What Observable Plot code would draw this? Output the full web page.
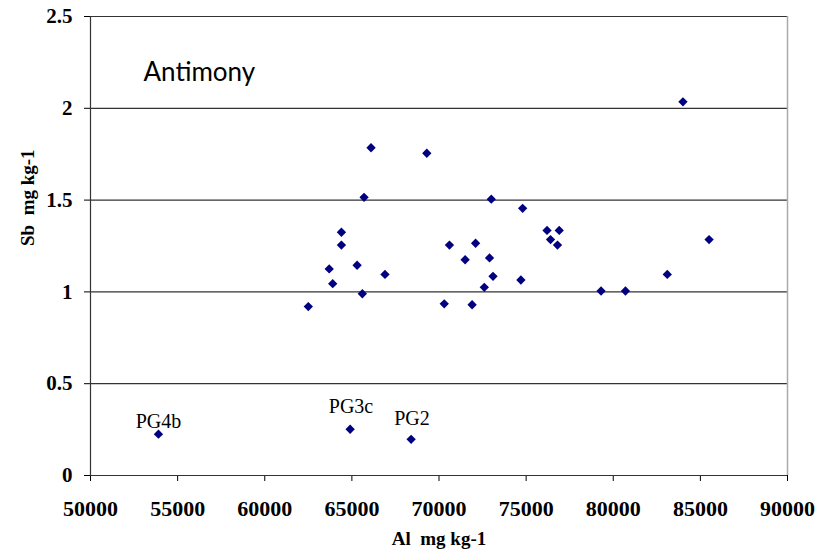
<!DOCTYPE html>
<html>
<head>
<meta charset="utf-8">
<script src="https://cdn.jsdelivr.net/npm/d3@7"></script>
<script src="https://cdn.jsdelivr.net/npm/@observablehq/plot@0.6"></script>
<style>
  html, body { margin: 0; padding: 0; background: #fff; }
  #chart { width: 831px; height: 551px; }
</style>
</head>
<body>
<div id="chart"></div>
<script>
// Main samples: Al (mg/kg) vs Sb (mg/kg)
const alValues = [66100, 69300, 65700, 73000, 74800, 64400, 64400, 63700, 63900, 65300,
                  65600, 66900, 62500, 70600, 71500, 72100, 72900, 73100, 72600, 74700,
                  70300, 71900, 76200, 76900, 76400, 76800, 84000, 85500, 83100, 79300, 80700,
                  53900, 64900, 68400];
const sbValues = [1.785, 1.755, 1.515, 1.505, 1.455, 1.325, 1.255, 1.125, 1.045, 1.145,
                  0.99, 1.095, 0.92, 1.255, 1.175, 1.265, 1.185, 1.085, 1.025, 1.065,
                  0.935, 0.93, 1.335, 1.335, 1.285, 1.255, 2.035, 1.285, 1.095, 1.005, 1.005,
                  0.225, 0.252, 0.197];
// Labelled outliers
const labelNames = ["PG4b", "PG3c", "PG2"];
const labelAl = [53900, 64950, 68450];
const labelSb = [0.293, 0.373, 0.31];

const xTicks = [50000, 55000, 60000, 65000, 70000, 75000, 80000, 85000, 90000];
const yTicks = [0, 0.5, 1, 1.5, 2, 2.5];
const titleText = "Antimony";
const xLabel = "Al  mg kg-1";
const yLabel = "Sb  mg kg-1";

const points = alValues.map((a, i) => ({al: a, sb: sbValues[i]}));
const labels = labelNames.map((n, i) => ({name: n, al: labelAl[i], sb: labelSb[i]}));

const serif = "'Liberation Serif', 'Times New Roman', serif";

const chart = Plot.plot({
  width: 831,
  height: 551,
  marginLeft: 90,
  marginRight: 44,
  marginTop: 16,
  marginBottom: 76,
  style: {fontFamily: serif, fontSize: "20px", color: "#000", background: "#fff"},
  x: {domain: [50000, 90000], ticks: xTicks, tickSize: 6, tickPadding: 19, tickFormat: d => String(d), label: null},
  y: {domain: [0, 2.5], ticks: yTicks, tickSize: 6, tickPadding: 12, tickFormat: d => String(d), label: null},
  marks: [
    Plot.ruleY(yTicks.filter(d => d > 0), {stroke: "#333", strokeWidth: 1.2}),
    Plot.ruleX([90000], {stroke: "#aaa", strokeWidth: 1.5}),
    Plot.ruleX([50000], {stroke: "#333", strokeWidth: 1.2}),
    Plot.ruleY([0], {stroke: "#333", strokeWidth: 1.2}),
    Plot.dot(points, {x: "al", y: "sb", symbol: "diamond2", r: 4.2, fill: "#000080", stroke: "none"}),
    Plot.text(labels, {x: "al", y: "sb", text: "name", fontFamily: serif, fontSize: 20, fontWeight: "normal", fill: "#000"}),
    Plot.text([titleText], {frameAnchor: "top-left", dx: 53, dy: 46, text: d => d, fontFamily: "Lato, 'Open Sans', sans-serif", fontSize: 26, fontWeight: "normal", fill: "#000", textAnchor: "start"}),
    Plot.text([xLabel], {frameAnchor: "bottom", dy: 69, text: d => d, fontFamily: serif, fontSize: 19, fontWeight: "bold", fill: "#000"}),
    Plot.text([yLabel], {frameAnchor: "left", dx: -63, rotate: -90, text: d => d, fontFamily: serif, fontSize: 19, fontWeight: "bold", fill: "#000"})
  ]
});
d3.select(chart).selectAll('g[aria-label^="x-axis"] text')
  .style("font-size", "22px").style("font-weight", "bold").style("font-family", serif);
d3.select(chart).selectAll('g[aria-label^="y-axis"] text')
  .style("font-size", "21px").style("font-weight", "bold").style("font-family", serif);
document.getElementById("chart").appendChild(chart);
</script>
</body>
</html>
